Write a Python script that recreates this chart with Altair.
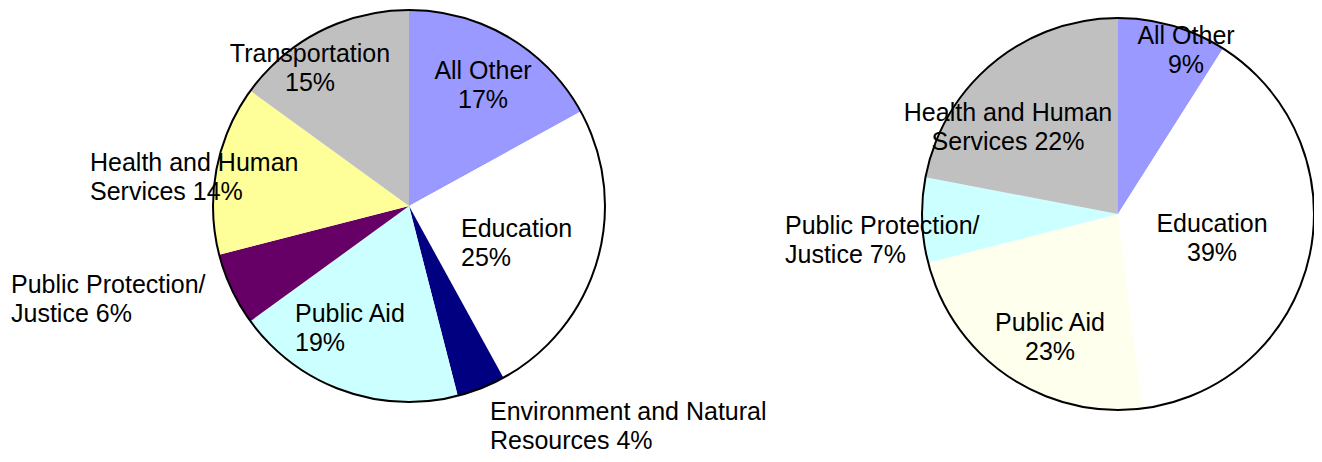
import altair as alt
import pandas as pd

# ---- data ----
left_categories = ["All Other", "Education", "Environment and Natural Resources",
                   "Public Aid", "Public Protection/Justice",
                   "Health and Human Services", "Transportation"]
left_values = [17, 25, 4, 19, 6, 14, 15]
left_labels = ["All Other\n17%", "Education\n25%", "Environment and Natural\nResources 4%",
               "Public Aid\n19%", "Public Protection/\nJustice 6%",
               "Health and Human\nServices 14%", "Transportation\n15%"]

right_categories = ["All Other", "Education", "Public Aid",
                    "Public Protection/Justice", "Health and Human Services"]
right_values = [9, 39, 23, 7, 22]
right_labels = ["All Other\n9%", "Education\n39%", "Public Aid\n23%",
                "Public Protection/\nJustice 7%", "Health and Human\nServices 22%"]

# ---- styles / layout ----
left_colors = ["#9999FF", "#FFFFFF", "#000080", "#CCFFFF", "#660066", "#FFFF99", "#C0C0C0"]
right_colors = ["#9999FF", "#FFFFFF", "#FFFFEE", "#CCFFFF", "#C0C0C0"]

# label anchor (page px, first-line baseline) and alignment
left_label_pos = [(483, 79, "center"), (461, 237, "left"), (490, 420, "left"),
                  (295, 322, "left"), (11, 293, "left"), (90, 171, "left"),
                  (310, 62, "center")]
right_label_pos = [(1186, 44, "center"), (1212, 232, "center"), (1050, 331, "center"),
                   (785, 234, "left"), (1008, 121, "center")]

M = 8  # page margin
W, H = 1306, 446
FONT = "Liberation Sans"
FS = 25
LH = 29

left_df = pd.DataFrame({"cat": left_categories, "value": left_values,
                        "idx": list(range(len(left_values)))})
right_df = pd.DataFrame({"cat": right_categories, "value": right_values,
                         "idx": list(range(len(right_values)))})


def pie(df, colors, cx, cy, r):
    base = alt.Chart(df)
    slices = base.mark_arc(radius=r).encode(
        theta=alt.Theta("value:Q", stack=True),
        order=alt.Order("idx:Q"),
        color=alt.Color("cat:N", scale=alt.Scale(domain=list(df["cat"]), range=colors),
                        legend=None),
        x=alt.value(cx - M), y=alt.value(cy - M),
    )
    ring = base.mark_arc(radius=r, fillOpacity=0, stroke="black", strokeWidth=2).encode(
        theta=alt.Theta("sum(value):Q"),
        x=alt.value(cx - M), y=alt.value(cy - M),
    )
    return alt.layer(slices, ring).resolve_scale(theta="independent")


def labels(texts, pos):
    df = pd.DataFrame({
        "label": texts,
        "px": [p[0] - M for p in pos],
        "py": [p[1] - M for p in pos],
        "al": [p[2] for p in pos],
    })
    layers = []
    for al in ["left", "center"]:
        layers.append(
            alt.Chart(df).transform_filter(alt.datum.al == al).mark_text(
                align=al, baseline="alphabetic", font=FONT, fontSize=FS,
                lineHeight=LH, lineBreak="\n", color="black"
            ).encode(
                x=alt.X("px:Q", scale=None, axis=None),
                y=alt.Y("py:Q", scale=None, axis=None),
                text="label:N",
            )
        )
    return alt.layer(*layers)


left_pie = pie(left_df, left_colors, 409, 206, 196)
right_pie = pie(right_df, right_colors, 1118, 214, 196)

chart = alt.layer(
    left_pie, right_pie,
    labels(left_labels, left_label_pos),
    labels(right_labels, right_label_pos),
).resolve_scale(color="independent", theta="independent").properties(
    width=W, height=H, padding=0, autosize=alt.AutoSizeParams(type="none"),
    background="white",
).configure_view(strokeWidth=0)

chart.save("out.html", embed_options={"renderer": "svg", "actions": False})
